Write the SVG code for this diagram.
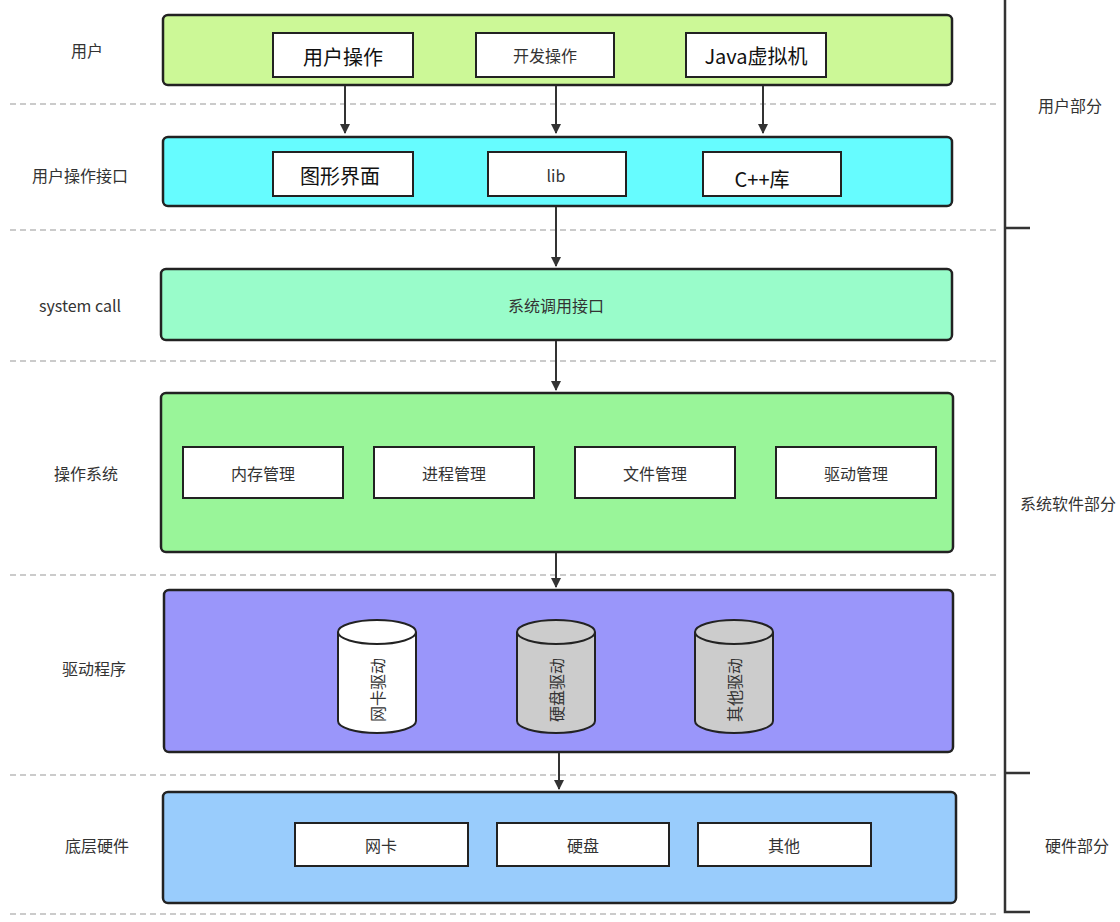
<svg xmlns="http://www.w3.org/2000/svg" width="1120" height="922" viewBox="0 0 1120 922">
<style>
text{font-family:"Noto Sans CJK SC","Liberation Sans",sans-serif;fill:#333;font-size:16px}
.band{stroke:#222;stroke-width:2.5}
.box{fill:#fff;stroke:#222;stroke-width:2}
.big{font-size:20px;fill:#111}
.dash{stroke:#bbb;stroke-width:1.5;stroke-dasharray:6,4}
.c{text-anchor:middle;dominant-baseline:central}
.con{stroke:#333;stroke-width:2;fill:none;marker-end:url(#ah)}
.cyl{stroke:#222;stroke-width:2}
</style>
<defs><marker id="ah" markerWidth="10" markerHeight="10" refX="9" refY="5" orient="auto" markerUnits="userSpaceOnUse"><path d="M0,0 L10,5 L0,10 z" fill="#333"/></marker></defs>
<rect width="1120" height="922" fill="#fff"/>
<g id="guides">
<line class="dash" x1="10" y1="104" x2="1000" y2="104"/>
<line class="dash" x1="10" y1="230" x2="1000" y2="230"/>
<line class="dash" x1="10" y1="361" x2="1000" y2="361"/>
<line class="dash" x1="10" y1="575" x2="1000" y2="575"/>
<line class="dash" x1="10" y1="775" x2="1000" y2="775"/>
<line class="dash" x1="10" y1="914" x2="1000" y2="914"/>
<path d="M1005,0 V912 H1030 M1005,228 H1030 M1005,773 H1030" stroke="#333" stroke-width="2.5" fill="none"/>
</g>
<g id="labels">
<text class="c" x="87" y="50">用户</text>
<text class="c" x="80" y="175">用户操作接口</text>
<text class="c" x="80" y="305">system call</text>
<text class="c" x="86" y="473">操作系统</text>
<text class="c" x="94" y="668">驱动程序</text>
<text class="c" x="97" y="845">底层硬件</text>
<text class="c" x="1070" y="105">用户部分</text>
<text x="1020" y="510">系统软件部分</text>
<text class="c" x="1077" y="845">硬件部分</text>
</g>
<g id="user">
<rect class="band" x="163" y="15" width="789" height="70" rx="5" fill="#ccf897"/>
<rect class="box" x="273" y="33" width="140" height="44"/><text class="c big" x="343" y="56">用户操作</text>
<rect class="box" x="476" y="33" width="138" height="44"/><text class="c" x="545" y="55">开发操作</text>
<rect class="box" x="686" y="33" width="140" height="44"/><text class="c big" x="756" y="55">Java虚拟机</text>
</g>
<g id="uapi">
<rect class="band" x="163" y="137" width="789" height="69" rx="5" fill="#66fcff"/>
<rect class="box" x="273" y="152" width="140" height="44"/><text class="c big" x="340" y="175">图形界面</text>
<rect class="box" x="488" y="152" width="138" height="44"/><text class="c" x="556" y="175">lib</text>
<rect class="box" x="703" y="152" width="138" height="44"/><text class="c big" x="762" y="178">C++库</text>
</g>
<g id="syscall">
<rect class="band" x="161" y="269" width="791" height="71" rx="5" fill="#99fcca"/>
<text class="c" x="556" y="305">系统调用接口</text>
</g>
<g id="os">
<rect class="band" x="161" y="393" width="792" height="159" rx="5" fill="#99f599"/>
<rect class="box" x="183" y="447" width="160" height="51"/><text class="c" x="263" y="473">内存管理</text>
<rect class="box" x="374" y="447" width="160" height="51"/><text class="c" x="454" y="473">进程管理</text>
<rect class="box" x="575" y="447" width="160" height="51"/><text class="c" x="655" y="473">文件管理</text>
<rect class="box" x="776" y="447" width="160" height="51"/><text class="c" x="856" y="473">驱动管理</text>
</g>
<g id="drivers">
<rect class="band" x="164" y="590" width="789" height="162" rx="5" fill="#9a96fa"/>
<g>
<path class="cyl" d="M338,632 V721 A39,12 0 0 0 416,721 V632" fill="#fff"/><ellipse class="cyl" cx="377" cy="632" rx="39" ry="12" fill="#fff"/>
<text class="c" transform="translate(377,690) rotate(-90)">网卡驱动</text>
</g>
<g>
<path class="cyl" d="M517,632 V721 A39,12 0 0 0 595,721 V632" fill="#ccc"/><ellipse class="cyl" cx="556" cy="632" rx="39" ry="12" fill="#ccc"/>
<text class="c" transform="translate(556,690) rotate(-90)">硬盘驱动</text>
</g>
<g>
<path class="cyl" d="M695,632 V721 A39,12 0 0 0 773,721 V632" fill="#ccc"/><ellipse class="cyl" cx="734" cy="632" rx="39" ry="12" fill="#ccc"/>
<text class="c" transform="translate(734,690) rotate(-90)">其他驱动</text>
</g>
</g>
<g id="hw">
<rect class="band" x="163" y="792" width="793" height="111" rx="5" fill="#99ccfc"/>
<rect class="box" x="295" y="823" width="173" height="43"/><text class="c" x="381" y="845">网卡</text>
<rect class="box" x="497" y="823" width="172" height="43"/><text class="c" x="583" y="845">硬盘</text>
<rect class="box" x="698" y="823" width="173" height="43"/><text class="c" x="784" y="845">其他</text>
</g>
<g id="connectors">
<line class="con" x1="345" y1="86" x2="345" y2="133"/>
<line class="con" x1="556" y1="86" x2="556" y2="133"/>
<line class="con" x1="763" y1="86" x2="763" y2="133"/>
<line class="con" x1="556" y1="207" x2="556" y2="266"/>
<line class="con" x1="556" y1="341" x2="556" y2="390"/>
<line class="con" x1="556" y1="553" x2="556" y2="587"/>
<line class="con" x1="559" y1="753" x2="559" y2="789"/>
</g>
</svg>
